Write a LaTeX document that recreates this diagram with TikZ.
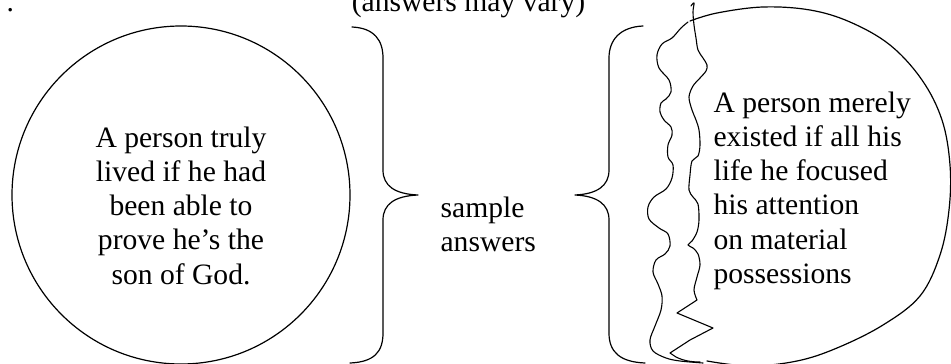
\documentclass[tikz,border=0pt]{standalone}
\usepackage{fontspec}
\setmainfont{Liberation Serif}
\begin{document}
\begin{tikzpicture}[x=1pt,y=-1pt,line width=1.2pt,line join=round,line cap=round,
  txt/.style={inner sep=0pt,anchor=base,font=\fontsize{29.6}{34.3}\selectfont},
  wavy/.style={line width=1.1pt}]
\useasboundingbox (0,0) rectangle (951,364);
\clip (0,0) rectangle (951,364);
% title and stray dot
\node[txt,anchor=base west] (dot) at (6,12) {.};
\node[txt] (title) at (468.5,12) {(answers may vary)};
% left circle with text
\node[draw,circle,minimum size=338pt,inner sep=0pt] (lc) at (181,195) {};
\node[txt] (lt) at (181,147) {\begin{tabular}[t]{@{}c@{}}A person truly\\lived if he had\\been able to\\prove he’s the\\son of God.\end{tabular}};
% closing brace
\draw (352,27) .. controls (374,28) and (383,40) .. (383,58) -- (383,170)
  .. controls (383,186) and (395,194) .. (418,195)
  .. controls (395,196) and (383,204) .. (383,220) -- (383,333)
  .. controls (383,352) and (374,362) .. (350,363);
% middle text
\node[txt,anchor=base west] (mid) at (440,217) {\begin{tabular}[t]{@{}l@{}}sample\\answers\end{tabular}};
% opening brace
\draw (643,26) .. controls (620,27) and (609,40) .. (609,58) -- (609,170)
  .. controls (609,186) and (597,194) .. (575,195)
  .. controls (597,196) and (609,204) .. (609,220) -- (609,333)
  .. controls (609,352) and (620,362) .. (645,363);
% right ellipse (arc)
\draw plot[smooth,tension=0.6] coordinates {(690,21) (717,13) (763,7) (810,10) (850,22) (890,45) (922,80) (942,120) (950,165) (949,210) (940,255) (920,296) (883,325) (837,348) (797,361) (750,366) (707,361)};
% right text
\node[txt,anchor=base west] (rt) at (713,112) {\begin{tabular}[t]{@{}l@{}}A person merely\\existed if all his\\life he focused\\his attention\\on material\\possessions\end{tabular}};
% outer wavy line
\draw[wavy] plot[smooth,tension=0.55] coordinates {(688,22) (681,28) (672,38) (662,44) (657,55) (659,68) (669,80) (671,92) (666,99) (661,103) (660,112) (664,120) (671,127) (672,135) (668,145) (668,157) (673,165) (672,178) (666,189) (654,197) (648,207) (649,219) (659,228) (668,234) (670,246) (665,254) (656,260) (653,272) (658,284) (662,296) (661,310) (655,326) (650,340) (653,351) (666,358) (680,361) (703,363)};
% inner wavy line
\draw[wavy] plot[smooth,tension=0.55] coordinates {(691,6) (694,3) (693,12) (694,25) (696,38) (698,50) (703,58) (707,65) (706,71) (700,78) (693,86) (689,97) (692,110) (696,120) (699,130) (700,145) (698,156) (692,161) (690,175) (689,190) (693,197) (698,204) (699,220) (697,232) (692,241) (688,245) (693,248) (698,254) (700,265) (697,277) (694,290) (697,300)}
  -- (677,313) -- (713,328) -- (690,340) -- (670,353) -- (676,357) .. controls (684,361) and (692,362) .. (700,362);
\end{tikzpicture}
\end{document}
